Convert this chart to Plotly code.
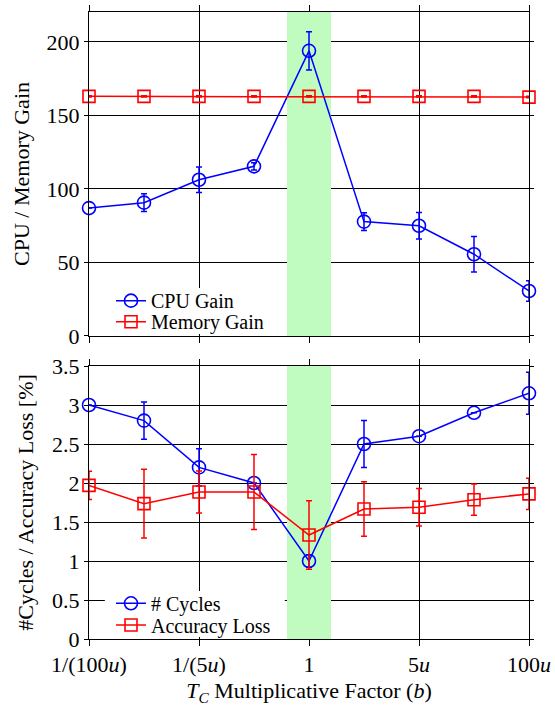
import plotly.graph_objects as go
from plotly.subplots import make_subplots

x_pos = [0, 1, 2, 3, 4, 5, 6, 7, 8]
tick_pos = [0, 2, 4, 6, 8]
tick_labels = ["1/(100<i>u</i>)", "1/(5<i>u</i>)", "1", "5<i>u</i>", "100<i>u</i>"]

cpu_gain = [87, 90.7, 106.3, 115.4, 194, 77.8, 75, 55.6, 30.6]
cpu_err = [0, 6, 8.7, 2.5, 13, 6, 9, 12, 7]
mem_gain = [163, 163, 163, 163, 163, 163, 163, 163, 162.5]
mem_err = [0.5, 0.5, 0.5, 0.5, 0.5, 0.5, 0.5, 0.5, 0.5]

cycles = [3.0, 2.8, 2.2, 2.0, 1.0, 2.5, 2.6, 2.9, 3.15]
cycles_err = [0, 0.24, 0.24, 0, 0.08, 0.3, 0, 0, 0.27]
acc_loss = [1.97, 1.735, 1.885, 1.885, 1.333, 1.667, 1.69, 1.786, 1.86]
acc_err = [0.18, 0.44, 0.27, 0.48, 0.44, 0.35, 0.24, 0.2, 0.2]

band_center = 4
band_width = 0.8
y1_range = [0, 220.4]
y2_range = [0, 3.5]

BLUE = "#0000ff"
RED = "#ff0000"
FONT = "Liberation Serif, DejaVu Serif, serif"
FS = 22
LFS = 20

fig = make_subplots(rows=2, cols=1, shared_xaxes=False)

# green highlight band (bar trace sits above gridlines, below scatter traces)
for row, yr in ((1, y1_range), (2, y2_range)):
    fig.add_trace(go.Bar(x=[band_center], y=[yr[1]], width=[band_width],
                         marker=dict(color="#c0fcc0", line=dict(width=0)),
                         showlegend=False, hoverinfo="skip"), row=row, col=1)


def add(y, err, color, symbol, name, row, legend):
    fig.add_trace(go.Scatter(
        x=x_pos, y=y, name=name, mode="lines+markers",
        line=dict(color=color, width=1.5),
        marker=dict(symbol=symbol, size=13 if symbol == "circle-open" else 12,
                    color=color, line=dict(width=1.6, color=color)),
        error_y=dict(type="data", array=err, visible=True, color=color,
                     thickness=1.5, width=3),
        cliponaxis=False, legend=legend,
    ), row=row, col=1)


add(cpu_gain, cpu_err, BLUE, "circle-open", "CPU Gain", 1, "legend")
add(mem_gain, mem_err, RED, "square-open", "Memory Gain", 1, "legend2")
add(cycles, cycles_err, BLUE, "circle-open", "# Cycles", 2, "legend3")
add(acc_loss, acc_err, RED, "square-open", "Accuracy Loss", 2, "legend4")

axis_common = dict(showline=True, linecolor="black", linewidth=1, mirror="ticks",
                   gridcolor="black", gridwidth=1, zeroline=False, automargin=False,
                   tickcolor="black", ticks="outside",
                   tickfont=dict(family=FONT, size=FS, color="black"))

fig.update_xaxes(range=[0, 8], tickmode="array", tickvals=tick_pos, ticktext=tick_labels,
                 ticklen=6, **axis_common)
fig.update_xaxes(showticklabels=False, row=1, col=1)
fig.update_xaxes(row=2, col=1, title=dict(
    text="<i>T</i><sub><i>C</i></sub> Multiplicative Factor (<i>b</i>)",
    font=dict(family=FONT, size=FS, color="black"), standoff=6))

fig.update_yaxes(ticklen=4, **axis_common)
fig.update_yaxes(row=1, col=1, range=y1_range, tickvals=[0, 50, 100, 150, 200],
                 title=dict(text="CPU / Memory Gain", font=dict(family=FONT, size=FS, color="black"),
                            standoff=10))
fig.update_yaxes(row=2, col=1, range=y2_range,
                 tickvals=[0, 0.5, 1, 1.5, 2, 2.5, 3, 3.5],
                 ticktext=["0", "0.5", "1", "1.5", "2", "2.5", "3", "3.5"],
                 title=dict(text="#Cycles / Accuracy Loss [%]", font=dict(family=FONT, size=FS, color="black"),
                            standoff=12))

# white legend backgrounds (cover gridlines behind the legends)
for x0, x1, y0, y1 in ((0.016, 0.445, 0.4864, 0.5598), (0.036, 0.445, 0.0032, 0.0766)):
    fig.add_shape(type="rect", xref="paper", yref="paper", x0=x0, x1=x1, y0=y0, y1=y1,
                  fillcolor="white", line=dict(width=0), layer="above")


def leg(y):
    return dict(x=0.05, y=y, xanchor="left", yanchor="middle",
                bgcolor="rgba(0,0,0,0)", borderwidth=0, itemwidth=30,
                font=dict(family=FONT, size=LFS, color="black"))


fig.update_layout(
    width=555, height=716,
    margin=dict(l=89, r=26, t=12, b=77),
    paper_bgcolor="white", plot_bgcolor="white",
    barmode="overlay", bargap=0,
    xaxis=dict(domain=[0, 1]), xaxis2=dict(domain=[0, 1]),
    yaxis=dict(domain=[0.4833, 1.0]),
    yaxis2=dict(domain=[0.0, 0.4354]),
    legend=leg(0.5396),
    legend2=leg(0.5061),
    legend3=leg(0.0569),
    legend4=leg(0.0223),
    showlegend=True,
)

fig.write_html("out.html", config={"displayModeBar": False},
               post_script="document.body.style.margin='0';document.body.style.overflow='hidden';")
